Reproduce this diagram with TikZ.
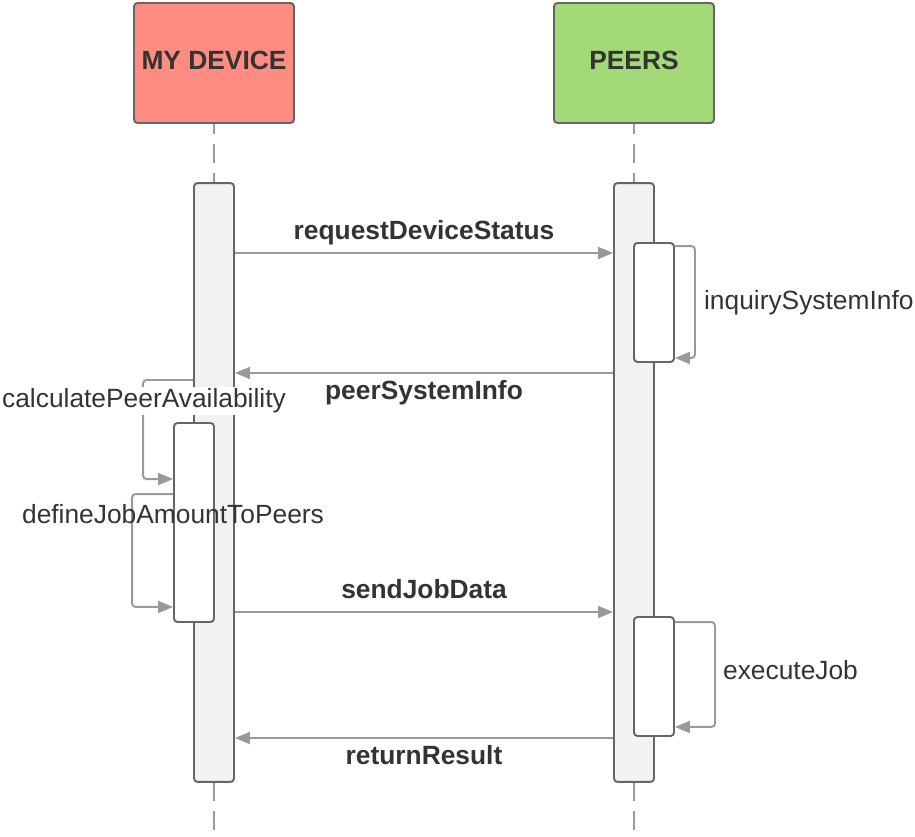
\documentclass[tikz,border=0pt]{standalone}
\usepackage{fontspec}
\setmainfont{Liberation Sans}
\usetikzlibrary{arrows.meta}
\definecolor{devred}{HTML}{FF8C80}
\definecolor{peergreen}{HTML}{A3D977}
\definecolor{barfill}{HTML}{F2F2F2}
\definecolor{edge}{HTML}{666666}
\definecolor{msgline}{HTML}{999999}
\definecolor{txt}{HTML}{333333}
\tikzstyle{head} = [draw=edge, line width=1.1pt, rounded corners=2pt, minimum width=3.2cm, minimum height=2.4cm, text depth=0.12cm, text=txt, font=\fontsize{15}{18}\selectfont\bfseries]
\tikzstyle{bar} = [draw=edge, line width=1.1pt, rounded corners=2pt, fill=barfill, minimum width=0.8cm]
\tikzstyle{act} = [bar, fill=white]
\tikzstyle{life} = [draw=msgline, line width=1.1pt, dash pattern=on 0.38cm off 0.2cm, dash phase=0.18cm]
\tikzstyle{msg} = [draw=msgline, line width=1.1pt, -{Triangle[length=0.3cm, width=0.24cm]}]
\tikzstyle{loopmsg} = [msg, rounded corners=2pt]
\tikzstyle{lbl} = [text=txt, inner sep=1pt]
\tikzstyle{msglbl} = [lbl, font=\fontsize{15}{18}\selectfont\bfseries]

\begin{document}
\begin{tikzpicture}[x=0.02cm, y=-0.02cm, font=\fontsize{15}{18}\selectfont]
	\useasboundingbox (0,0) rectangle (915,837);

	\node[head, fill=devred](dev) at (214, 63){MY DEVICE};
	\node[head, fill=peergreen](peer) at (634, 63){PEERS};
	\coordinate (devend) at (214, 837);
	\coordinate (peerend) at (634, 837);
	\draw[life](dev.south) -- (devend);
	\draw[life](peer.south) -- (peerend);

	\node[bar, minimum height=11.98cm](devbar) at (214, 482.5){};
	\node[bar, minimum height=11.98cm](peerbar) at (634, 482.5){};
	\node[act, minimum height=2.38cm](pin1) at (654, 302.5){};
	\node[act, minimum height=2.38cm](pin2) at (654, 676.5){};
	\node[act, minimum height=3.98cm](din) at (194, 522.5){};

	% messages
	\coordinate (m1) at (0, 253);
	\coordinate (m2) at (0, 373);
	\coordinate (m3) at (0, 612);
	\coordinate (m4) at (0, 738);
	\coordinate (c1) at (0, 380);
	\draw[msg](devbar.east |- m1) -- (peerbar.west |- m1);
	\draw[msg](peerbar.west |- m2) -- (devbar.east |- m2);
	\draw[msg](devbar.east |- m3) -- (peerbar.west |- m3);
	\draw[msg](peerbar.west |- m4) -- (devbar.east |- m4);
	\node[msglbl](l1) at (424, 233){requestDeviceStatus};
	\node[msglbl](l2) at (424, 393){peerSystemInfo};
	\node[msglbl](l3) at (424, 589){sendJobData};
	\node[msglbl](l4) at (424, 755.5){returnResult};

	% self calls
	\draw[loopmsg]([yshift=-0.08cm]pin1.north east) -- ++(0.4cm, 0) |- ([yshift=0.1cm]pin1.south east);
	\draw[loopmsg]([yshift=-0.12cm]pin2.north east) -- ++(0.8cm, 0) |- ([yshift=0.2cm]pin2.south east);
	\draw[loopmsg](devbar.west |- c1) -- ++(-1cm, 0) |- ([yshift=-1.14cm]din.north west);
	\draw[loopmsg]([yshift=-1.44cm]din.north west) -- ++(-0.82cm, 0) |- ([yshift=0.32cm]din.south west);
	\node[lbl, anchor=west](l5) at (702, 303){inquirySystemInfo};
	\node[lbl, anchor=west](l6) at (721, 670.5){executeJob};
	\node[lbl, fill=white](l7) at (144, 401){calculatePeerAvailability};
	\node[lbl](l8) at (173, 514){defineJobAmountToPeers};
\end{tikzpicture}
\end{document}
